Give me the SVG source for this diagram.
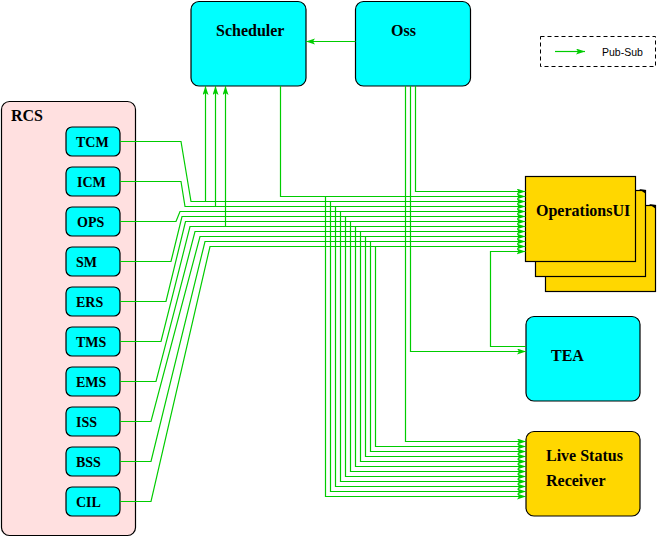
<svg xmlns="http://www.w3.org/2000/svg" width="657" height="537" viewBox="0 0 657 537">
<style>
.lbl{font-family:"Liberation Serif","Times New Roman",serif;font-weight:bold;font-size:16px;fill:#000}
.sm{font-size:14px}
.box{stroke:#000;stroke-width:1.2}
.cy{fill:#00ffff}
.gd{fill:#ffd700}
.c{fill:none;stroke:#00cc00;stroke-width:1.2}
.a{marker-end:url(#arr)}
</style>
<defs>
<marker id="arr" markerUnits="userSpaceOnUse" markerWidth="10" markerHeight="8" refX="9" refY="3" orient="auto">
<path d="M0,0 L9,3 L0,6 L2,3 z" fill="#00cc00"/>
</marker>
</defs>
<g id="legend">
<rect x="540.5" y="36.5" width="115" height="30" fill="none" stroke="#000" stroke-dasharray="4,3"/>
<path class="c a" d="M555,51.5 H585"/>
<text x="602" y="55.5" font-family="Liberation Sans,Arial,sans-serif" font-size="10.5" fill="#000">Pub-Sub</text>
</g>
<g id="RCS">
<rect class="box" x="1.5" y="101.5" width="134" height="434" rx="8" fill="#ffe0e0"/>
<text class="lbl" x="11" y="121">RCS</text>
</g>
<g id="TCM"><rect class="box cy" x="66" y="127" width="54" height="29" rx="6"/><text class="lbl sm" x="76" y="146.5">TCM</text></g>
<g id="ICM"><rect class="box cy" x="66" y="167" width="54" height="29" rx="6"/><text class="lbl sm" x="77" y="186.5">ICM</text></g>
<g id="OPS"><rect class="box cy" x="66" y="207" width="54" height="29" rx="6"/><text class="lbl sm" x="77" y="226.5">OPS</text></g>
<g id="SM"><rect class="box cy" x="66" y="247" width="54" height="29" rx="6"/><text class="lbl sm" x="76" y="266.5">SM</text></g>
<g id="ERS"><rect class="box cy" x="66" y="287" width="54" height="29" rx="6"/><text class="lbl sm" x="76" y="306.5">ERS</text></g>
<g id="TMS"><rect class="box cy" x="66" y="327" width="54" height="29" rx="6"/><text class="lbl sm" x="76" y="346.5">TMS</text></g>
<g id="EMS"><rect class="box cy" x="66" y="367" width="54" height="29" rx="6"/><text class="lbl sm" x="76" y="386.5">EMS</text></g>
<g id="ISS"><rect class="box cy" x="66" y="407" width="54" height="29" rx="6"/><text class="lbl sm" x="76" y="426.5">ISS</text></g>
<g id="BSS"><rect class="box cy" x="66" y="447" width="54" height="29" rx="6"/><text class="lbl sm" x="76" y="466.5">BSS</text></g>
<g id="CIL"><rect class="box cy" x="66" y="487" width="54" height="29" rx="6"/><text class="lbl sm" x="76" y="506.5">CIL</text></g>
<g id="Scheduler"><rect class="box cy" x="191" y="1.5" width="115" height="84.5" rx="8"/><text class="lbl" x="216" y="36">Scheduler</text></g>
<g id="Oss"><rect class="box cy" x="355.5" y="1.5" width="115" height="84.5" rx="8"/><text class="lbl" x="391" y="36">Oss</text></g>
<g id="OperationsUI">
<rect class="box gd" x="545.5" y="205.5" width="110" height="86"/>
<rect class="box gd" x="535.5" y="190.5" width="110" height="86"/>
<rect class="box gd" x="525.5" y="176.5" width="110" height="85"/>
<polygon points="639,189 646,190 646,194" fill="#000"/>
<polygon points="649,204 656,205 656,209" fill="#000"/>
<text class="lbl" x="536" y="216">OperationsUI</text>
</g>
<g id="TEA"><rect class="box cy" x="526" y="316.5" width="114" height="84.5" rx="8"/><text class="lbl" x="551" y="361">TEA</text></g>
<g id="LiveStatusReceiver"><rect class="box gd" x="526" y="431.5" width="114" height="84.5" rx="8"/><text class="lbl" x="546" y="460.5">Live Status</text><text class="lbl" x="546" y="485.5">Receiver</text></g>
<g id="connectors">
<path class="c a" d="M355.5,41.5 H306"/>
<path class="c a" d="M415.5,86 V191.5 H525.5"/>
<path class="c a" d="M410.5,86 V351.5 H526"/>
<path class="c a" d="M405.5,86 V441.5 H526"/>
<path class="c a" d="M280.5,86 V196.5 H525.5"/>
<path class="c a" d="M325.5,196.5 V496.5 H526"/>
<path class="c a" d="M120,141.5 H181 L191,201.5 H525.5"/>
<path class="c a" d="M205.5,201.5 V86"/>
<path class="c a" d="M330.5,201.5 V491.5 H526"/>
<path class="c a" d="M120,181.5 H181 L185,206.5 H525.5"/>
<path class="c a" d="M215.5,206.5 V86"/>
<path class="c a" d="M335.5,206.5 V486.5 H526"/>
<path class="c a" d="M120,221.5 H176 L180,211.5 H525.5"/>
<path class="c a" d="M340.5,211.5 V481.5 H526"/>
<path class="c a" d="M120,261.5 H171 L182,216.5 H525.5"/>
<path class="c a" d="M345.5,216.5 V476.5 H526"/>
<path class="c a" d="M120,301.5 H166 L185.5,221.5 H525.5"/>
<path class="c a" d="M350.5,221.5 V471.5 H526"/>
<path class="c a" d="M120,341.5 H161 L190,226.5 H525.5"/>
<path class="c a" d="M225.5,226.5 V86"/>
<path class="c a" d="M355.5,226.5 V466.5 H526"/>
<path class="c a" d="M120,381.5 H156 L195,231.5 H525.5"/>
<path class="c a" d="M360.5,231.5 V461.5 H526"/>
<path class="c a" d="M120,421.5 H151 L200,236.5 H525.5"/>
<path class="c a" d="M365.5,236.5 V456.5 H526"/>
<path class="c a" d="M120,461.5 H151 L205,241.5 H525.5"/>
<path class="c a" d="M370.5,241.5 V451.5 H526"/>
<path class="c a" d="M120,501.5 H151 L210,246.5 H525.5"/>
<path class="c a" d="M375.5,246.5 V446.5 H526"/>
<path class="c a" d="M526,346.5 H490.5 V251.5 H525.5"/>
</g>
</svg>
